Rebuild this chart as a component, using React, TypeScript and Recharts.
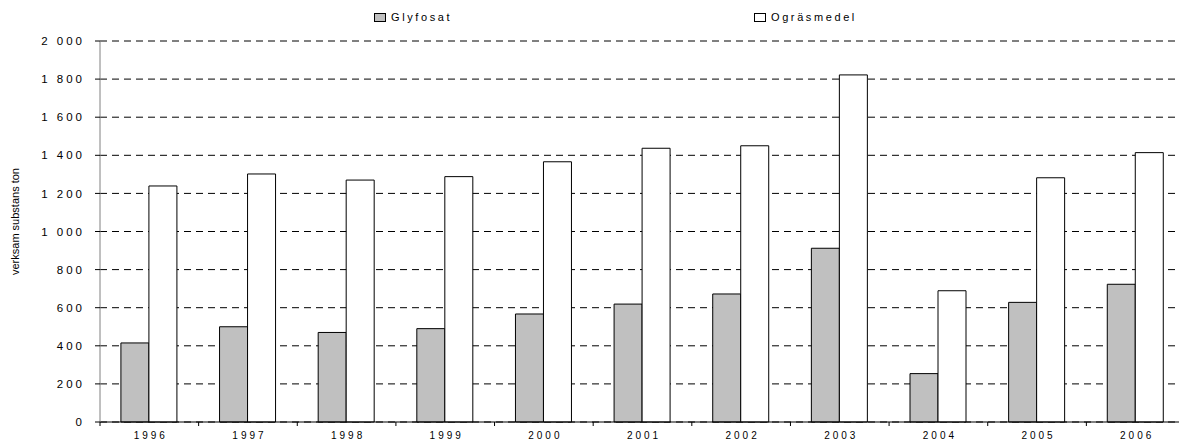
import React from 'react';
import { BarChart, Bar, XAxis, YAxis, CartesianGrid, Legend } from 'recharts';

// values (tonnes active substance)
const years = ['1996', '1997', '1998', '1999', '2000', '2001', '2002', '2003', '2004', '2005', '2006'];
const glyfosat = [415, 500, 470, 490, 567, 619, 672, 912, 254, 628, 723];
const ograsmedel = [1239, 1302, 1270, 1288, 1366, 1437, 1450, 1822, 689, 1282, 1414];
const yTicks = [0, 200, 400, 600, 800, 1000, 1200, 1400, 1600, 1800, 2000];
const seriesNames = ['Glyfosat', 'Ogräsmedel'];

const data = years.map((year, i) => ({
  year,
  glyfosat: glyfosat[i],
  ograsmedel: ograsmedel[i],
}));

const FONT = 'Arial, "Liberation Sans", sans-serif';
const LEGEND_X = [374, 754];

// "2 000" style, space as thousands separator
const formatThousands = (v: number) =>
  v >= 1000 ? `${Math.floor(v / 1000)} ${String(v % 1000).padStart(3, '0')}` : String(v);

const YTick = (props: any) => {
  const { x, y, payload } = props;
  return (
    <text
      x={x}
      y={y}
      dy="0.36em"
      textAnchor="end"
      fontFamily={FONT}
      fontSize={11.5}
      fill="#000"
      style={{ letterSpacing: '3px' }}
    >
      {formatThousands(payload.value)}
    </text>
  );
};

const XTick = (props: any) => {
  const { x, y, payload, index, width, visibleTicksCount } = props;
  const band = width / visibleTicksCount;
  const left = x - band / 2;
  return (
    <g>
      <line x1={left} x2={left} y1={y} y2={y + 4} stroke="#000" />
      {index === visibleTicksCount - 1 && (
        <line x1={x + band / 2} x2={x + band / 2} y1={y} y2={y + 4} stroke="#000" />
      )}
      <text
        x={x + 1.5}
        y={y + 17}
        textAnchor="middle"
        fontFamily={FONT}
        fontSize={10}
        fill="#000"
        style={{ letterSpacing: '3px' }}
      >
        {payload.value}
      </text>
    </g>
  );
};

const renderLegend = (props: any) => {
  const { payload } = props;
  return (
    <div style={{ position: 'relative', height: 30, fontFamily: FONT, fontSize: 11, color: '#000' }}>
      {payload.map((p: any, i: number) => (
        <div
          key={p.value}
          style={{ position: 'absolute', left: LEGEND_X[i], top: 11, display: 'flex', alignItems: 'center' }}
        >
          <span
            style={{
              display: 'inline-block',
              width: 10,
              height: 7,
              border: '1px solid #000',
              background: p.color,
              marginRight: 5,
            }}
          />
          <span style={{ letterSpacing: '2.6px' }}>{p.value}</span>
        </div>
      ))}
    </div>
  );
};

const YLabel = (props: any) => {
  const { viewBox } = props;
  const cx = 15;
  const cy = viewBox.y + viewBox.height / 2 - 10;
  return (
    <text
      x={cx}
      y={cy}
      transform={`rotate(-90, ${cx}, ${cy})`}
      textAnchor="middle"
      dominantBaseline="central"
      fontFamily={FONT}
      fontSize={11}
      fill="#000"
    >
      verksam substans ton
    </text>
  );
};

export default function App() {
  return (
    <div
      style={{
        position: 'absolute',
        left: 0,
        top: 0,
        width: 1179,
        height: 441,
        overflow: 'hidden',
        background: '#fff',
      }}
    >
      <BarChart
        width={1190}
        height={441}
        data={data}
        margin={{ top: 11, right: 5, bottom: 0, left: 0 }}
        barCategoryGap="21.2%"
        barGap={0}
      >
        <CartesianGrid vertical={false} stroke="#000" strokeDasharray="7 5" />
        <Legend verticalAlign="top" content={renderLegend} wrapperStyle={{ top: 0, left: 0, width: 1190 }} />
        <XAxis
          dataKey="year"
          height={19}
          tickLine={false}
          tickSize={0}
          tickMargin={0}
          axisLine={{ stroke: '#000' }}
          tick={<XTick />}
          interval={0}
        />
        <YAxis
          width={100}
          domain={[0, 2000]}
          ticks={yTicks}
          interval={0}
          axisLine={{ stroke: '#808080' }}
          tickLine={{ stroke: '#000' }}
          tickSize={5}
          tickMargin={10}
          tick={<YTick />}
          label={{ value: 'verksam substans ton', content: <YLabel /> }}
        />
        <Bar
          dataKey="glyfosat"
          name={seriesNames[0]}
          fill="#c0c0c0"
          stroke="#000"
          strokeWidth={1}
          isAnimationActive={false}
        />
        <Bar
          dataKey="ograsmedel"
          name={seriesNames[1]}
          fill="#ffffff"
          stroke="#000"
          strokeWidth={1}
          isAnimationActive={false}
        />
      </BarChart>
    </div>
  );
}
